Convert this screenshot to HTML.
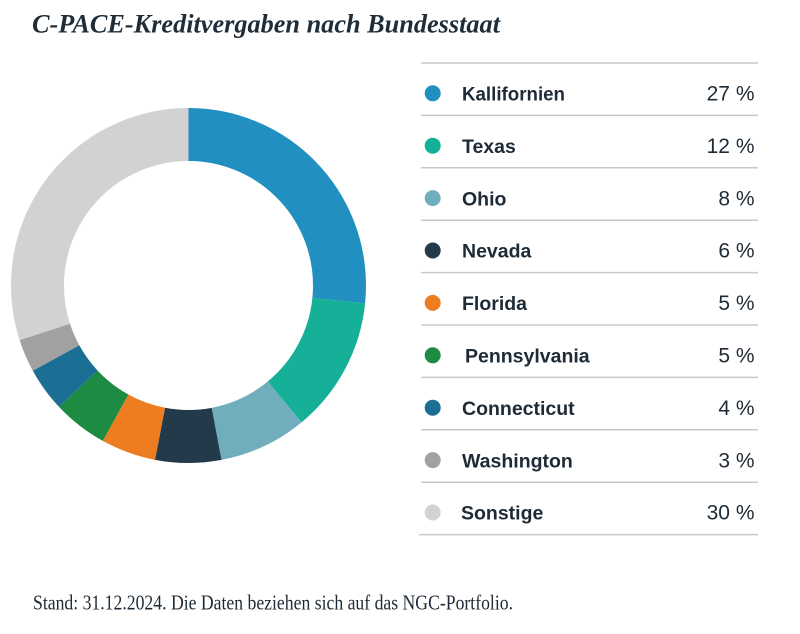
<!DOCTYPE html>
<html>
<head>
<meta charset="utf-8">
<style>
  html, body { margin: 0; padding: 0; background: #ffffff; }
  body { width: 800px; height: 634px; overflow: hidden; }
  svg { display: block; }
</style>
</head>
<body>
<svg width="800" height="634" viewBox="0 0 800 634" xmlns="http://www.w3.org/2000/svg">
  <rect x="0" y="0" width="800" height="634" fill="#ffffff"/>

  <!-- Title -->
  <text x="32" y="32.7" font-family="Liberation Serif, serif" font-size="26.5" font-weight="bold" font-style="italic" fill="#1f2d38" textLength="468" lengthAdjust="spacingAndGlyphs">C-PACE-Kreditvergaben nach Bundesstaat</text>

  <!-- Donut -->
  <g transform="rotate(-90 188.5 285.5)" fill="none" stroke-width="53">
    <circle cx="188.5" cy="285.5" r="151" stroke="#2190c0" stroke-dasharray="252.37 948.76" stroke-dashoffset="0"/>
    <circle cx="188.5" cy="285.5" r="151" stroke="#15b097" stroke-dasharray="117.65 948.76" stroke-dashoffset="-252.37"/>
    <circle cx="188.5" cy="285.5" r="151" stroke="#71aebd" stroke-dasharray="75.90 948.76" stroke-dashoffset="-370.02"/>
    <circle cx="188.5" cy="285.5" r="151" stroke="#223a4a" stroke-dasharray="56.93 948.76" stroke-dashoffset="-445.92"/>
    <circle cx="188.5" cy="285.5" r="151" stroke="#ee7d22" stroke-dasharray="47.44 948.76" stroke-dashoffset="-502.84"/>
    <circle cx="188.5" cy="285.5" r="151" stroke="#1d8c42" stroke-dasharray="47.44 948.76" stroke-dashoffset="-550.28"/>
    <circle cx="188.5" cy="285.5" r="151" stroke="#1b6f94" stroke-dasharray="37.95 948.76" stroke-dashoffset="-597.72"/>
    <circle cx="188.5" cy="285.5" r="151" stroke="#a1a1a1" stroke-dasharray="28.46 948.76" stroke-dashoffset="-635.67"/>
    <circle cx="188.5" cy="285.5" r="151" stroke="#d2d2d2" stroke-dasharray="284.63 948.76" stroke-dashoffset="-664.13"/>
  </g>

  <!-- Legend lines -->
  <g stroke="#c9c9c9" stroke-width="1.5">
    <line x1="421" y1="63" x2="758" y2="63"/>
    <line x1="421" y1="115.4" x2="758" y2="115.4"/>
    <line x1="421" y1="167.8" x2="758" y2="167.8"/>
    <line x1="421" y1="220.2" x2="758" y2="220.2"/>
    <line x1="421" y1="272.6" x2="758" y2="272.6"/>
    <line x1="421" y1="325" x2="758" y2="325"/>
    <line x1="421" y1="377.4" x2="758" y2="377.4"/>
    <line x1="421" y1="429.8" x2="758" y2="429.8"/>
    <line x1="421" y1="482.2" x2="758" y2="482.2"/>
    <line x1="419" y1="534.6" x2="758" y2="534.6"/>
  </g>

  <!-- Legend dots -->
  <circle cx="432.7" cy="93.3" r="8" fill="#2190c0"/>
  <circle cx="432.7" cy="145.7" r="8" fill="#15b097"/>
  <circle cx="432.7" cy="198.1" r="8" fill="#71aebd"/>
  <circle cx="432.7" cy="250.5" r="8" fill="#223a4a"/>
  <circle cx="432.7" cy="302.9" r="8" fill="#ee7d22"/>
  <circle cx="432.7" cy="355.3" r="8" fill="#1d8c42"/>
  <circle cx="432.7" cy="407.7" r="8" fill="#1b6f94"/>
  <circle cx="432.7" cy="460.1" r="8" fill="#a1a1a1"/>
  <circle cx="432.7" cy="512.5" r="8" fill="#d2d2d2"/>

  <!-- Legend labels -->
  <g font-family="Liberation Sans, sans-serif" font-size="19.5" font-weight="bold" fill="#1e2b36">
    <text x="462" y="100.5" textLength="103" lengthAdjust="spacingAndGlyphs">Kallifornien</text>
    <text x="462" y="152.9">Texas</text>
    <text x="462" y="205.3">Ohio</text>
    <text x="462" y="257.7">Nevada</text>
    <text x="462" y="310.1">Florida</text>
    <text x="465" y="362.5">Pennsylvania</text>
    <text x="462" y="414.9">Connecticut</text>
    <text x="462" y="467.3">Washington</text>
    <text x="461" y="519.7">Sonstige</text>
  </g>

  <!-- Legend values -->
  <g font-family="Liberation Sans, sans-serif" font-size="21" fill="#1e2b36" text-anchor="end">
    <text x="754.5" y="100.5">27 %</text>
    <text x="754.5" y="152.9">12 %</text>
    <text x="754.5" y="205.3">8 %</text>
    <text x="754.5" y="257.7">6 %</text>
    <text x="754.5" y="310.1">5 %</text>
    <text x="754.5" y="362.5">5 %</text>
    <text x="754.5" y="414.9">4 %</text>
    <text x="754.5" y="467.3">3 %</text>
    <text x="754.5" y="519.7">30 %</text>
  </g>

  <!-- Footer -->
  <text x="33" y="609.3" font-family="Liberation Serif, serif" font-size="21" fill="#1e2b36" textLength="480" lengthAdjust="spacingAndGlyphs">Stand: 31.12.2024. Die Daten beziehen sich auf das NGC-Portfolio.</text>
</svg>
</body>
</html>
